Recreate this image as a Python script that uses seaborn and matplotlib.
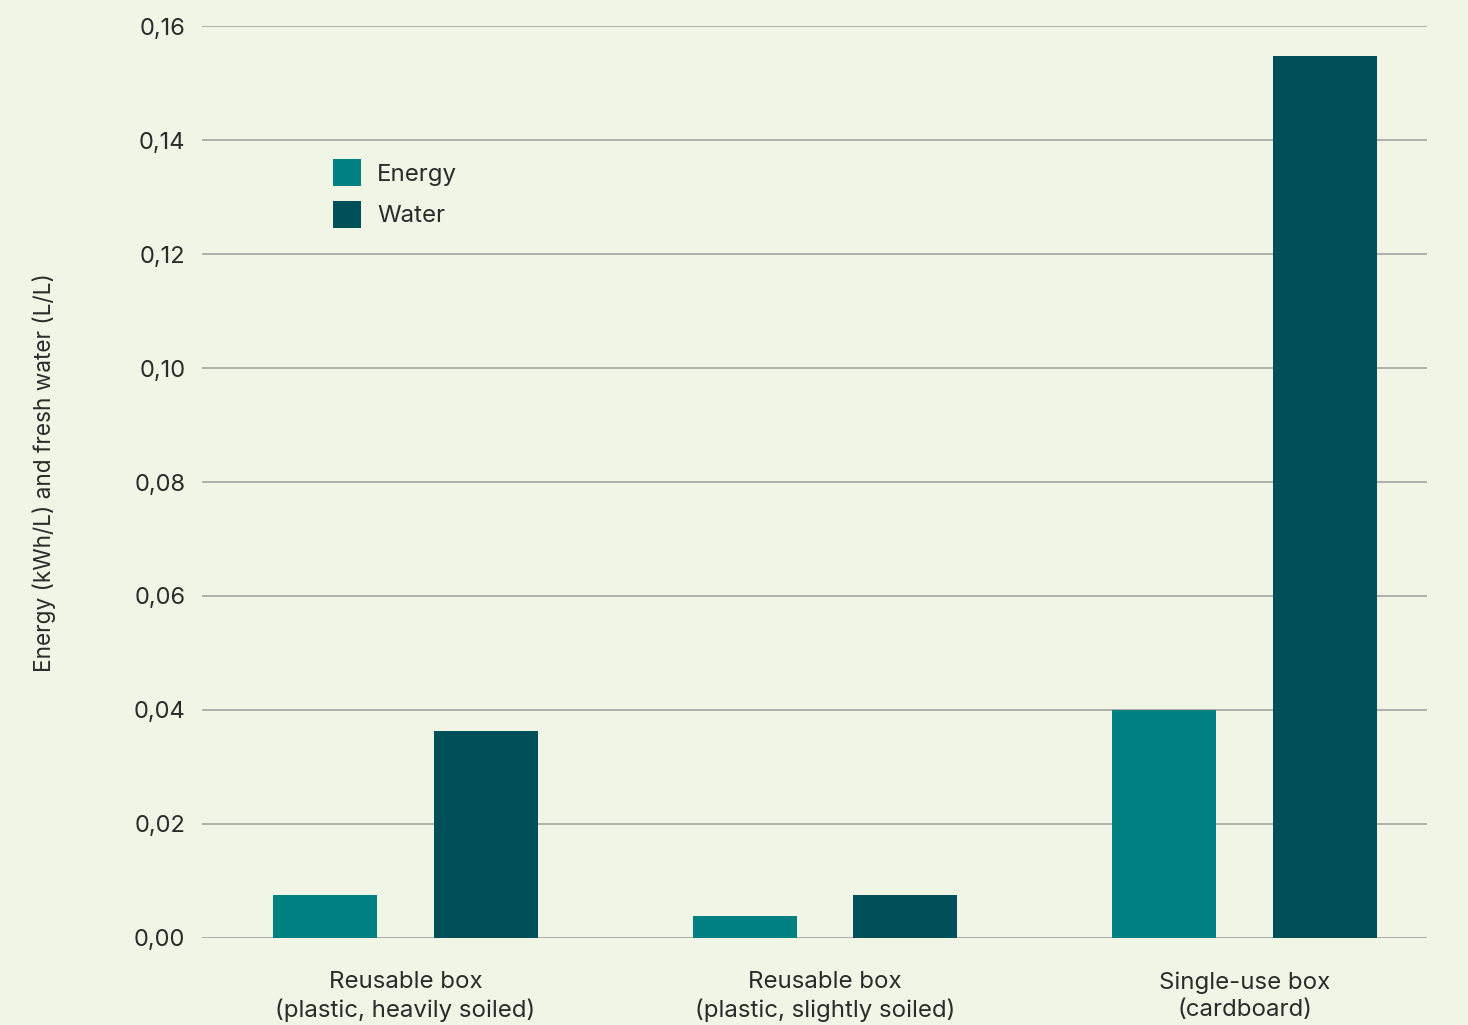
import pandas as pd
import seaborn as sns
import matplotlib.pyplot as plt

# data
categories = ["Reusable box\n(plastic, heavily soiled)",
              "Reusable box\n(plastic, slightly soiled)",
              "Single-use box\n(cardboard)"]
energy = [0.0076, 0.0039, 0.0400]
water = [0.0363, 0.0076, 0.1547]
series = ["Energy", "Water"]
yticks = [0.00, 0.02, 0.04, 0.06, 0.08, 0.10, 0.12, 0.14, 0.16]

bg = "#f0f5e6"
colors = ["#008080", "#00505a"]
txt = "#2b2b2b"

df = pd.DataFrame({
    "category": categories * 2,
    "value": energy + water,
    "series": [series[0]] * 3 + [series[1]] * 3,
})

sns.set_theme(style="white")
plt.rcParams["font.family"] = ["Inter", "DejaVu Sans"]

fig = plt.figure(figsize=(14.68, 10.25), dpi=100, facecolor=bg)
ax = fig.add_axes([0.1376, 0.0849, 0.8345, 0.8897], facecolor=bg)

sns.barplot(data=df, x="category", y="value", hue="series", order=categories,
            hue_order=series, palette=colors, width=0.765, gap=0.35,
            saturation=1, linewidth=0, ax=ax, zorder=3)

ax.set_ylim(0, 0.16)
ax.set_xlim(-0.485, 2.435)
ax.set_yticks(yticks)
ax.set_yticklabels([f"{v:.2f}".replace(".", ",") for v in yticks])
ax.grid(axis="y", color="#aaaaaa", linewidth=1.3, zorder=0)
ax.grid(axis="x", visible=False)
sns.despine(ax=ax, left=True, bottom=True, top=True, right=True)

ax.tick_params(axis="y", length=0, pad=12, labelsize=17, labelcolor=txt)
ax.tick_params(axis="x", length=0, pad=24, labelsize=17.3, labelcolor=txt)
for lab in ax.get_xticklabels():
    lab.set_linespacing(1.3)

ax.set_xlabel("")
ax.set_ylabel("Energy (kWh/L) and fresh water (L/L)", fontsize=16.3, color=txt)
ax.yaxis.set_label_coords(-0.119, 0.51)

leg = ax.legend(loc="upper left", bbox_to_anchor=(0.089, 0.878), frameon=False,
                fontsize=17.3, handlelength=1.17, handleheight=1.38,
                labelspacing=0.6, handletextpad=0.68)
for t in leg.get_texts():
    t.set_color(txt)

fig.savefig("out.png", dpi=100, facecolor=bg)
